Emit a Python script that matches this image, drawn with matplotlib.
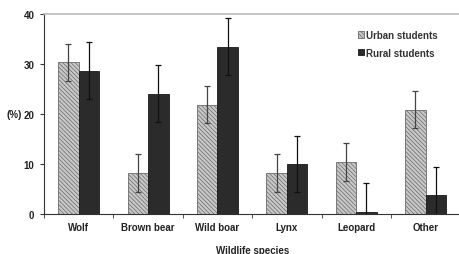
import matplotlib
matplotlib.use("Agg")
import matplotlib.pyplot as plt
from matplotlib import font_manager as fm
import numpy as np
import glob

paths = glob.glob('/usr/share/fonts/**/LiberationSans-Bold.ttf', recursive=True)
if paths:
    fm.fontManager.addfont(paths[0])
plt.rcParams['font.family'] = ['Liberation Sans', 'DejaVu Sans']
plt.rcParams['hatch.linewidth'] = 0.5

categories = ["Wolf", "Brown bear", "Wild boar", "Lynx", "Leopard", "Other"]
urban = [30.4, 8.2, 21.9, 8.2, 10.3, 20.9]
urban_err = [3.7, 3.8, 3.7, 3.8, 3.8, 3.7]
rural = [28.7, 24.1, 33.5, 9.9, 0.4, 3.7]
rural_err = [5.7, 5.7, 5.7, 5.6, 5.7, 5.6]
yticks = [0, 10, 20, 30, 40]

fig = plt.figure(figsize=(4.6, 2.55), dpi=100)
ax = fig.add_axes([0.0957, 0.157, 0.905, 0.784])

x = np.arange(len(categories))
w = 0.295
ax.bar(x - w/2, urban, w, color='#c8c8c8', edgecolor='#6a6a6a', linewidth=0.6,
       hatch='\\\\\\\\\\\\\\\\', yerr=urban_err,
       error_kw=dict(ecolor='#444444', elinewidth=0.9, capsize=2.5, capthick=0.9),
       label='Urban students')
ax.bar(x + w/2, rural, w, color='#2b2b2b', edgecolor='#1a1a1a', linewidth=0.6,
       yerr=rural_err, error_kw=dict(ecolor='#111111', elinewidth=0.9, capsize=2.5, capthick=0.9),
       label='Rural students')

ax.set_xlim(-0.5, len(categories) - 0.5)
ax.set_ylim(0, 40)
ax.set_yticks(yticks)
ax.set_yticklabels([str(v) for v in yticks], fontsize=7, fontweight='bold', color='#222222')
ax.set_xticks(x)
ax.set_xticklabels(categories, fontsize=7, fontweight='bold', color='#222222')
ax.tick_params(axis='x', length=0, pad=6)
ax.set_xticks(np.arange(len(categories) + 1) - 0.5, minor=True)
ax.tick_params(axis='x', which='minor', length=3, direction='out', color='#333333')
ax.tick_params(axis='y', length=3, direction='out', color='#333333', pad=4)

ax.spines['top'].set_color('#bbbbbb')
ax.spines['top'].set_linewidth(1.2)
ax.spines['right'].set_visible(False)
ax.spines['left'].set_color('#333333')
ax.spines['bottom'].set_color('#333333')

fig.text(14/460, 1 - 115/255, '(%)', fontsize=7, fontweight='bold',
         color='#222222', ha='center', va='center')
ax.set_xlabel('Wildlife species', fontsize=7, fontweight='bold', color='#222222', labelpad=9)

leg = ax.legend(loc='upper left', bbox_to_anchor=(0.745, 0.94), frameon=False,
                prop={'weight': 'bold', 'size': 7}, handlelength=0.6, handleheight=0.6,
                handletextpad=0.2, labelspacing=0.8, borderaxespad=0)
for t in leg.get_texts():
    t.set_color('#333333')

fig.savefig('out.png', dpi=100)
